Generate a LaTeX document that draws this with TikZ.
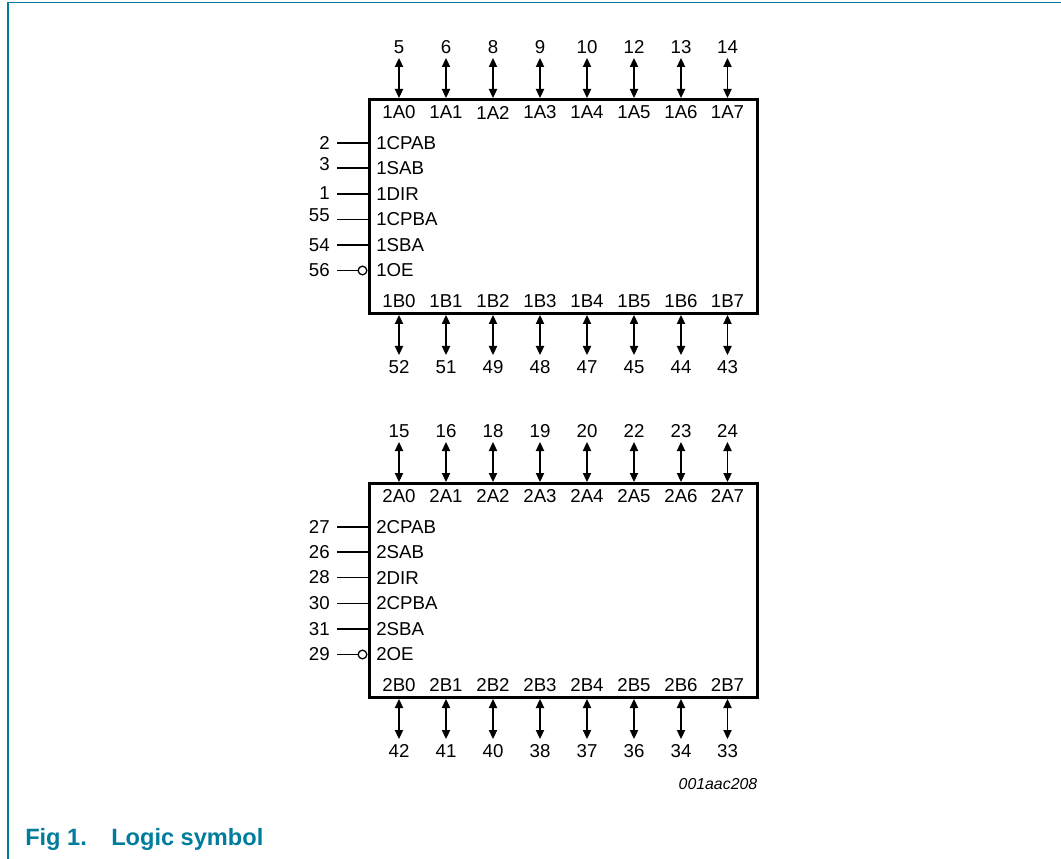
\documentclass[tikz,border=0pt]{standalone}
\usepackage{fontspec}
\setmainfont{Liberation Sans}
\usetikzlibrary{arrows.meta}
\definecolor{nxpteal}{RGB}{0,124,156}
\tikzset{
    pinarrow/.style={{Triangle[length=6.75pt,width=6.2pt]}-{Triangle[length=6.75pt,width=6.2pt]},line width=0.95pt},
    pinline/.style={line width=0.95pt},
    chipbox/.style={draw,line width=2.25pt,minimum width=291pt,minimum height=160pt,inner sep=0pt},
    pintext/.style={inner sep=0pt,font=\fontsize{14}{16}\selectfont},
    bubble/.style={circle,draw,line width=0.95pt,inner sep=0pt,minimum size=6.5pt},
}
\begin{document}
\begin{tikzpicture}[x=0.75pt,y=-0.75pt]
    \useasboundingbox (0,0) rectangle (1061,859);

    \draw[nxpteal,line width=0.9pt] (8,859) -- (8,2.5) -- (1061,2.5);

    % first block
    \node[chipbox] (box1) at (563,206.5) {};
    \foreach \x/\n/\m/\i in {399/5/52/0,446/6/51/1,493/8/49/2,540/9/48/3,587/10/47/4,634/12/45/5,681/13/44/6,727.5/14/43/7}
    {
        \node[pintext] (pa\n) at (\x,47) {\n};
        \node[pintext] (la\n) at (\x,112.5) {1A\i};
        \coordinate (ta\n) at (\x,58);
        \coordinate (ua\n) at (\x,98);
        \draw[pinarrow] (ta\n) -- (ua\n);
        \node[pintext] (pb\m) at (\x,367) {\m};
        \node[pintext] (lb\m) at (\x,301) {1B\i};
        \coordinate (tb\m) at (\x,315);
        \coordinate (ub\m) at (\x,355);
        \draw[pinarrow] (tb\m) -- (ub\m);
    }
    \foreach \y/\ny/\n/\t in {143/143/2/1CPAB,168/164/3/1SAB,194/193.5/1/1DIR,219.5/215.5/55/1CPBA,245/245/54/1SBA}
    {
        \node[pintext,anchor=east] (pc\n) at (330,\ny) {\n};
        \node[pintext,anchor=west] (lc\n) at (376,\y) {\t};
        \coordinate (tc\n) at (337,\y);
        \draw[pinline] (tc\n) -- (tc\n -| box1.west);
    }
    \node[pintext,anchor=east] (pc56) at (330,270.5) {56};
    \node[pintext,anchor=west] (lc56) at (376,270.5) {1OE};
    \coordinate (tc56) at (337,270.5);
    \node[bubble] (oe1) at (362.5,270.5) {};
    \draw[pinline] (tc56) -- (oe1);

    % second block
    \node[chipbox] (box2) at (563,590.5) {};
    \foreach \x/\n/\m/\i in {399/15/42/0,446/16/41/1,493/18/40/2,540/19/38/3,587/20/37/4,634/22/36/5,681/23/34/6,727.5/24/33/7}
    {
        \node[pintext] (pa\n) at (\x,431) {\n};
        \node[pintext] (la\n) at (\x,496) {2A\i};
        \coordinate (ta\n) at (\x,442);
        \coordinate (ua\n) at (\x,482);
        \draw[pinarrow] (ta\n) -- (ua\n);
        \node[pintext] (pb\m) at (\x,751) {\m};
        \node[pintext] (lb\m) at (\x,685) {2B\i};
        \coordinate (tb\m) at (\x,699);
        \coordinate (ub\m) at (\x,739);
        \draw[pinarrow] (tb\m) -- (ub\m);
    }
    \foreach \y/\n/\t in {527/27/2CPAB,552/26/2SAB,577.5/28/2DIR,603.5/30/2CPBA,629/31/2SBA}
    {
        \node[pintext,anchor=east] (pc\n) at (330,\y) {\n};
        \node[pintext,anchor=west] (lc\n) at (376,\y) {\t};
        \coordinate (tc\n) at (337,\y);
        \draw[pinline] (tc\n) -- (tc\n -| box2.west);
    }
    \node[pintext,anchor=east] (pc29) at (330,654.5) {29};
    \node[pintext,anchor=west] (lc29) at (376,654.5) {2OE};
    \coordinate (tc29) at (337,654.5);
    \node[bubble] (oe2) at (362.5,654.5) {};
    \draw[pinline] (tc29) -- (oe2);

    \node[inner sep=0pt,anchor=east,font=\fontsize{11.9}{14}\selectfont\itshape] (figid) at (757.5,784) {001aac208};

    \node[inner sep=0pt,anchor=base west,text=nxpteal,font=\fontsize{17.7}{20}\selectfont\bfseries] (fignum) at (25,845) {Fig 1.};
    \node[inner sep=0pt,anchor=base west,text=nxpteal,font=\fontsize{17.7}{20}\selectfont\bfseries] (figtitle) at (111,845) {Logic symbol};
\end{tikzpicture}
\end{document}
